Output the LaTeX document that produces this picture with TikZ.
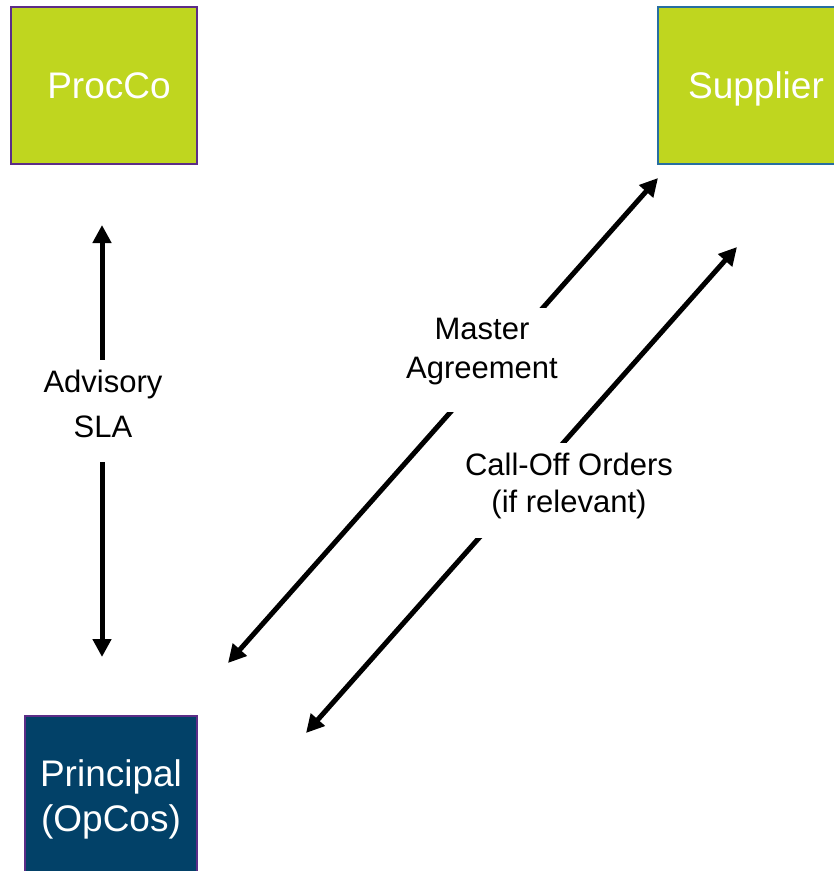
\documentclass[tikz,border=0pt]{standalone}
\usepackage{fontspec}
\setmainfont{Liberation Sans}
\usetikzlibrary{arrows.meta}
\definecolor{lime}{RGB}{191,214,31}
\definecolor{navy}{RGB}{2,65,104}
\definecolor{plum}{RGB}{92,45,135}
\definecolor{steel}{RGB}{40,110,160}

\begin{document}
\begin{tikzpicture}[x=1pt,y=-1pt,
  boxnode/.style={rectangle, minimum width=186pt, minimum height=157pt,
    inner sep=0pt, line width=1.6pt, text=white, align=center,
    font=\fontsize{37}{45}\selectfont},
  twoway/.style={line width=5pt,
    {Triangle[length=18pt,width=18pt]}-{Triangle[length=18pt,width=18pt]}},
  linktext/.style={fill=white, inner xsep=3pt, inner ysep=10pt,
    anchor=north, align=center}]

\useasboundingbox (0,0) rectangle (834,871);

% ends of the three relationships
\coordinate (adv-top) at (102,225);
\coordinate (adv-bot) at (102,657);
\coordinate (ma-top) at (658,178);
\coordinate (ma-bot) at (228,663);
\coordinate (co-top) at (737,247);
\coordinate (co-bot) at (306,733);

\draw[twoway] (adv-bot) -- (adv-top);
\draw[twoway] (ma-bot) -- (ma-top);
\draw[twoway] (co-bot) -- (co-top);

% parties
\node[boxnode, fill=lime, draw=plum] (procco) at (104,85.5) {\hspace*{10pt}ProcCo};
\node[boxnode, fill=lime, draw=steel, text depth=0pt] (supplier) at (751,85.5) {\hspace*{10pt}Supplier};
\node[boxnode, fill=navy, draw=plum, minimum width=172pt] (principal) at (111,794.5)
  {\rule{0pt}{37pt}Principal\\(OpCos)};

% agreement labels, set over the arrows
\node[linktext, font=\fontsize{31}{45}\selectfont] (adv) at (103,360)
  {Advisory\\SLA\rule[-14pt]{0pt}{14pt}};
\node[linktext, font=\fontsize{31}{39}\selectfont] (ma) at (482,308)
  {Master\\Agreement\rule[-23pt]{0pt}{23pt}};
\node[linktext, font=\fontsize{31}{37}\selectfont] (co) at (569,443)
  {Call-Off Orders\\(if relevant)\rule[-15pt]{0pt}{15pt}};
\end{tikzpicture}
\end{document}
